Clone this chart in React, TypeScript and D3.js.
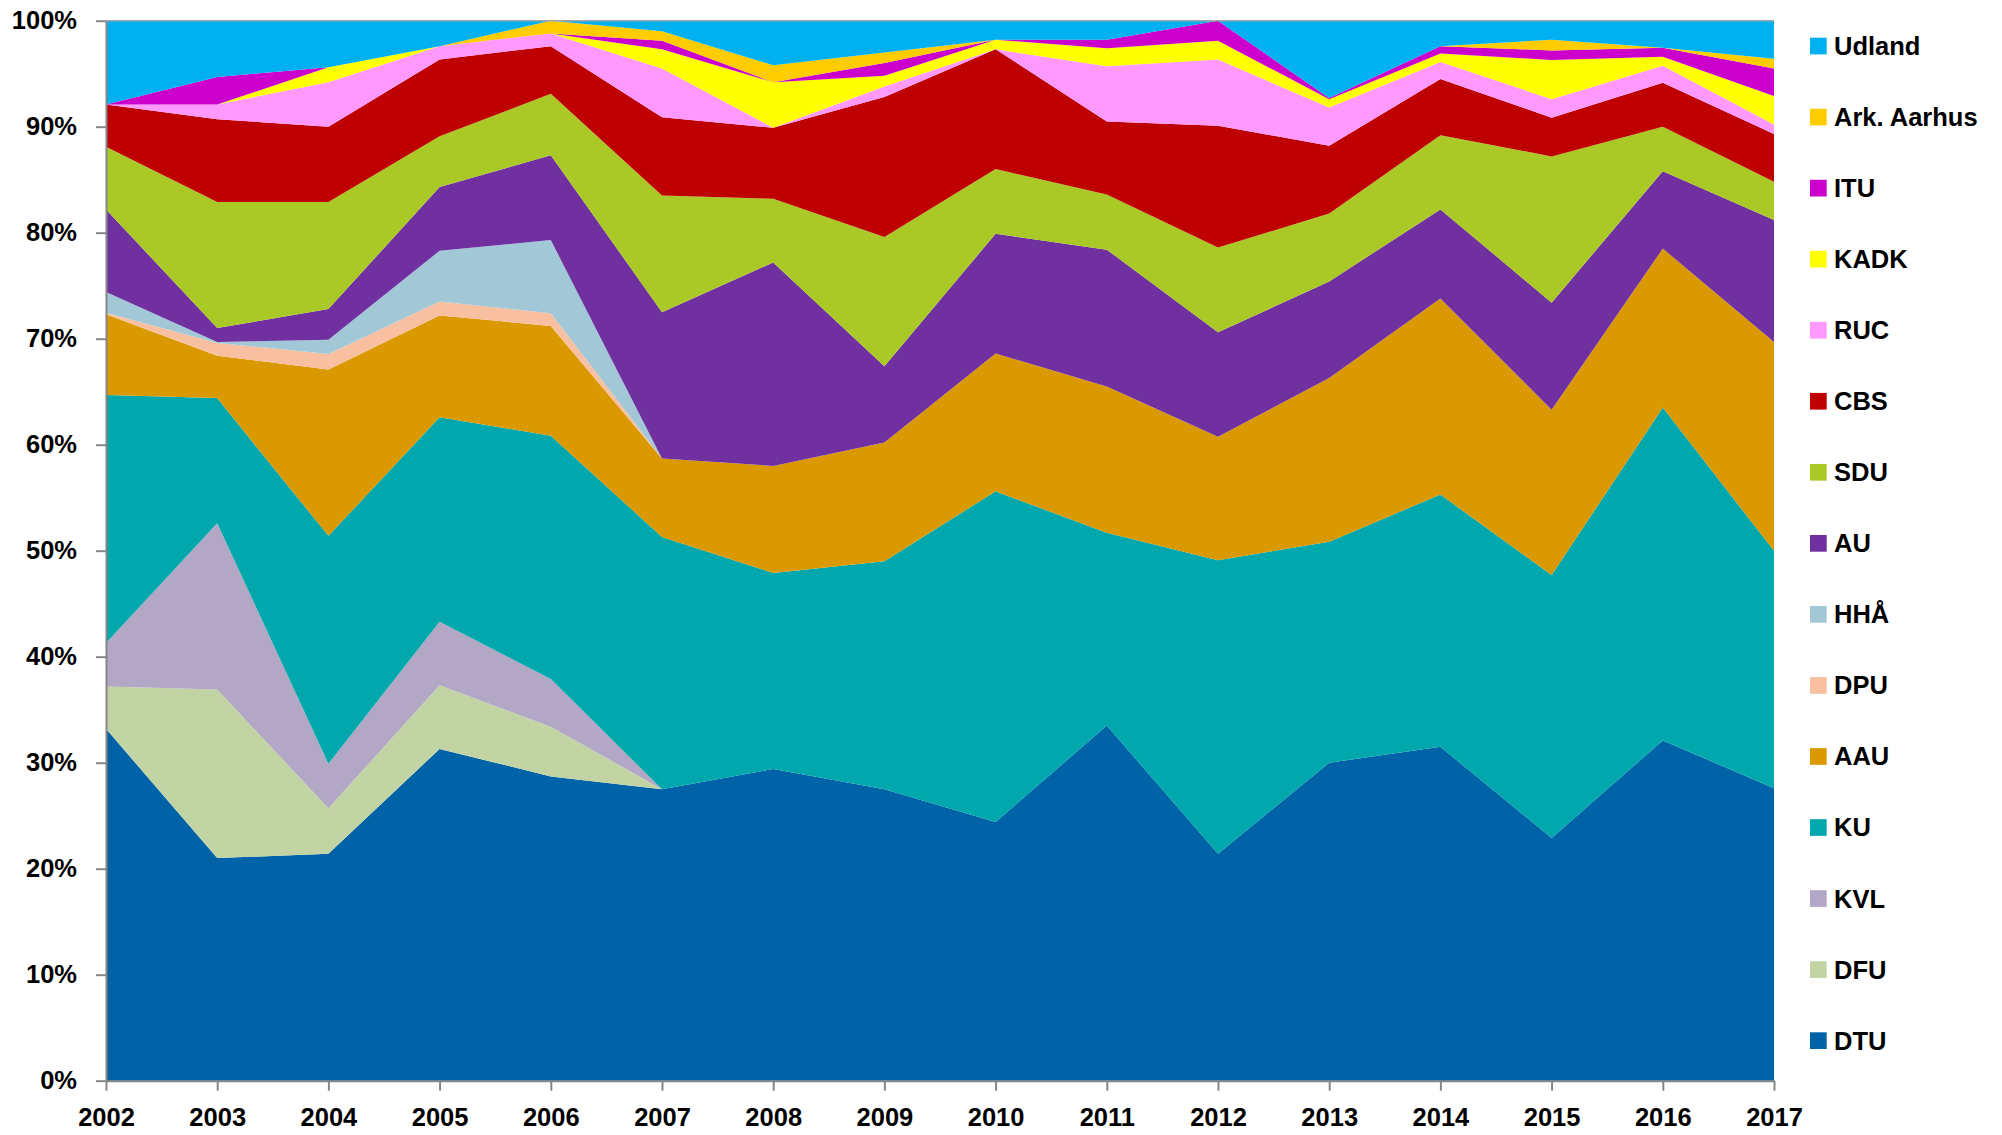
import { useEffect, useRef } from "react";
import * as d3 from "d3";

const years = [2002, 2003, 2004, 2005, 2006, 2007, 2008, 2009, 2010, 2011, 2012, 2013, 2014, 2015, 2016, 2017];

// shares in percent (bottom series first)
const DTU = [33.2, 21.0, 21.4, 31.3, 28.7, 27.5, 29.4, 27.5, 24.4, 33.5, 21.4, 30.0, 31.5, 22.9, 32.1, 27.6];
const DFU = [4.0, 15.9, 4.3, 6.0, 4.7, 0, 0, 0, 0, 0, 0, 0, 0, 0, 0, 0];
const KVL = [4.1, 15.7, 4.2, 6.0, 4.5, 0, 0, 0, 0, 0, 0, 0, 0, 0, 0, 0];
const KU = [23.4, 11.8, 21.5, 19.3, 22.95, 23.8, 18.5, 21.5, 31.2, 18.2, 27.7, 20.85, 23.8, 24.8, 31.4, 22.4];
const AAU = [7.6, 4.0, 15.7, 9.6, 10.35, 7.4, 10.1, 11.2, 13.0, 13.8, 11.65, 15.45, 18.5, 15.6, 15.0, 19.7];
const DPU = [0.15, 1.2, 1.45, 1.3, 1.2, 0, 0, 0, 0, 0, 0, 0, 0, 0, 0, 0];
const HHA = [1.95, 0.1, 1.35, 4.8, 6.9, 0, 0, 0, 0, 0, 0, 0, 0, 0, 0, 0];
const AU = [7.8, 1.3, 2.9, 6.0, 8.0, 13.8, 19.2, 7.2, 11.3, 12.9, 9.85, 9.1, 8.4, 10.1, 7.3, 11.5];
const SDU = [5.9, 11.9, 10.1, 4.8, 5.8, 11.0, 6.0, 12.2, 6.1, 5.2, 8.0, 6.4, 7.0, 13.8, 4.2, 3.6];
const CBS = [4.0, 7.8, 7.1, 7.25, 4.5, 7.4, 6.7, 13.2, 11.3, 6.9, 11.5, 6.4, 5.3, 3.65, 4.15, 4.5];
const RUC = [0, 1.4, 4.2, 1.25, 1.2, 4.6, 0, 1.0, 0, 5.2, 6.25, 3.6, 1.6, 1.75, 1.6, 0.9];
const KADK = [0, 0, 1.4, 0, 0, 1.8, 4.3, 1.0, 0.9, 1.7, 1.75, 0.8, 0.8, 3.7, 0.85, 2.7];
const ITU = [0, 2.6, 0, 0, 0, 0.8, 0, 1.2, 0, 0.8, 1.9, 0.1, 0.7, 0.9, 0.85, 2.6];
const ArkAarhus = [0, 0, 0, 0, 1.2, 0.9, 1.6, 1.0, 0, 0, 0, 0, 0, 1.0, 0, 0.9];
const Udland = [7.9, 5.3, 4.4, 2.4, 0, 1.0, 4.2, 3.0, 1.8, 1.8, 0, 7.3, 2.4, 1.8, 2.55, 3.6];

const seriesNames = ["DTU", "DFU", "KVL", "KU", "AAU", "DPU", "HHÅ", "AU", "SDU", "CBS", "RUC", "KADK", "ITU", "Ark. Aarhus", "Udland"];
const seriesValues = [DTU, DFU, KVL, KU, AAU, DPU, HHA, AU, SDU, CBS, RUC, KADK, ITU, ArkAarhus, Udland];
const seriesColors = [
  "#0063A8", "#C3D4A4", "#B2A7C5", "#00A7AD", "#DA9900", "#F8BFA0", "#A2C8D8", "#7030A0",
  "#AAC826", "#BF0000", "#FF99FF", "#FFFF00", "#CC00CC", "#FFCC00", "#00B0F0",
];

const yTicks = [0, 0.1, 0.2, 0.3, 0.4, 0.5, 0.6, 0.7, 0.8, 0.9, 1];

export default function App() {
  const svgRef = useRef<SVGSVGElement | null>(null);

  useEffect(() => {
    if (!svgRef.current) return;
    const svg = d3.select(svgRef.current);
    svg.selectAll("*").remove();

    const margin = { top: 20.7, left: 106, right: 228, bottom: 54.3 };
    const width = 2002;
    const height = 1135;
    const innerW = width - margin.left - margin.right;
    const innerH = height - margin.top - margin.bottom;
    const font = "'Liberation Sans', Arial, sans-serif";

    const rows = years.map((y, i) => {
      const r: any = { year: y };
      seriesNames.forEach((n, k) => (r[n] = seriesValues[k][i]));
      return r;
    });

    const stacked = d3.stack().keys(seriesNames).offset(d3.stackOffsetExpand)(rows);

    const x = d3.scaleLinear().domain(d3.extent(years) as any).range([0, innerW]);
    const y = d3.scaleLinear().domain([0, 1]).range([innerH, 0]);

    const chart = svg.append("g").attr("transform", `translate(${margin.left},${margin.top})`);

    const area = d3
      .area<any>()
      .x((d) => x(d.data.year))
      .y0((d) => y(d[0]))
      .y1((d) => y(d[1]));

    chart
      .selectAll("path.layer")
      .data(stacked)
      .enter()
      .append("path")
      .attr("class", "layer")
      .attr("fill", (_d, i) => seriesColors[i])
      .attr("d", area as any);

    // top border line at 100%
    chart
      .append("line")
      .attr("x1", 0)
      .attr("x2", innerW)
      .attr("y1", y(1))
      .attr("y2", y(1))
      .attr("stroke", "#a6a6a6")
      .attr("stroke-width", 1.5);

    const yAxis = chart
      .append("g")
      .call(
        d3
          .axisLeft(y)
          .tickValues(yTicks)
          .tickFormat(d3.format(".0%") as any)
          .tickSizeInner(10)
          .tickSizeOuter(0)
          .tickPadding(19)
      );
    yAxis.select(".domain").attr("stroke", "#868686").attr("stroke-width", 2);
    yAxis.selectAll(".tick line").attr("stroke", "#868686").attr("stroke-width", 2);
    yAxis
      .selectAll(".tick text")
      .attr("fill", "#000")
      .style("font-family", font)
      .style("font-weight", "bold")
      .style("font-size", "25.5px");

    const xAxis = chart
      .append("g")
      .attr("transform", `translate(0,${innerH})`)
      .call(
        d3
          .axisBottom(x)
          .tickValues(years)
          .tickFormat(d3.format("d") as any)
          .tickSizeInner(10)
          .tickSizeOuter(0)
          .tickPadding(17)
      );
    xAxis.select(".domain").attr("stroke", "#868686").attr("stroke-width", 2);
    xAxis.selectAll(".tick line").attr("stroke", "#868686").attr("stroke-width", 2);
    xAxis
      .selectAll(".tick text")
      .attr("fill", "#000")
      .style("font-family", font)
      .style("font-weight", "bold")
      .style("font-size", "25.5px");

    // legend, top entry is the top layer
    const legendOrder = seriesNames.map((_n, i) => i).reverse();
    const legendY = d3.scalePoint<number>().domain(legendOrder).range([46, 1040.6]);
    const legend = svg.append("g");
    legendOrder.forEach((k) => {
      const cy = legendY(k) as number;
      legend
        .append("rect")
        .attr("x", 1810)
        .attr("y", cy - 8.3)
        .attr("width", 16.7)
        .attr("height", 16.7)
        .attr("fill", seriesColors[k]);
      legend
        .append("text")
        .attr("x", 1834)
        .attr("y", cy)
        .attr("dominant-baseline", "central")
        .style("font-family", font)
        .style("font-weight", "bold")
        .style("font-size", "25.5px")
        .attr("fill", "#000")
        .text(seriesNames[k]);
    });
  }, []);

  return (
    <svg
      ref={svgRef}
      width={2002}
      height={1135}
      style={{ position: "absolute", left: 0, top: 0, background: "#fff" }}
    />
  );
}
